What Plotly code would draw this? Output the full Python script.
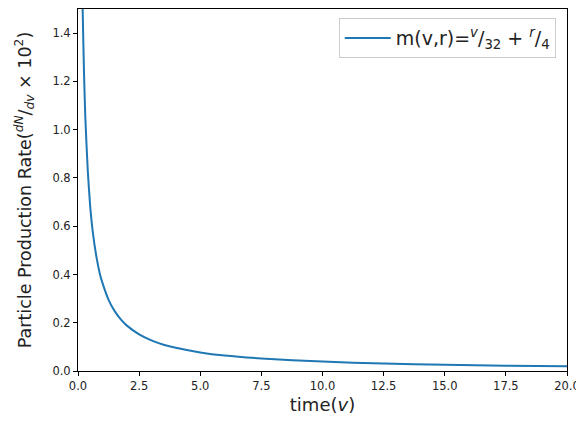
import plotly.graph_objects as go

# values
time_v = [0.15, 0.19, 0.25, 0.3, 0.4, 0.5, 0.6, 0.75, 0.9, 1.0, 1.25, 1.5, 1.75, 2.0,
          2.5, 3.0, 3.5, 4.0, 5.0, 6.0, 7.5, 10.0, 12.5, 15.0, 17.5, 20.0]
rate = [1.78, 1.50, 1.22, 1.05, 0.83, 0.68, 0.58, 0.475, 0.40, 0.365, 0.295, 0.248, 0.214, 0.188,
        0.152, 0.127, 0.109, 0.096, 0.077, 0.064, 0.052, 0.039, 0.031, 0.026, 0.022, 0.0195]

x_ticks = [0, 2.5, 5, 7.5, 10, 12.5, 15, 17.5, 20]
x_tick_labels = ["0.0", "2.5", "5.0", "7.5", "10.0", "12.5", "15.0", "17.5", "20.0"]
y_ticks = [0, 0.2, 0.4, 0.6, 0.8, 1.0, 1.2, 1.4]
y_tick_labels = ["0.0", "0.2", "0.4", "0.6", "0.8", "1.0", "1.2", "1.4"]

legend_name = ("m(v,r)=<sup><i>v</i></sup>/<sub>32</sub> + "
               "<sup><i>r</i></sup>/<sub>4</sub>")
y_title = ("Particle Production Rate(<sup><i>dN</i></sup>/<sub><i>dv</i></sub>"
           " × 10<sup>2</sup>)")

fig = go.Figure()
fig.add_trace(go.Scatter(x=time_v, y=rate, mode="lines", name=legend_name,
                         line=dict(color="#1f77b4", width=2, shape="spline", smoothing=0.6),
                         showlegend=True))

axis_common = dict(showline=True, linecolor="black", linewidth=1, mirror=True,
                   ticks="outside", ticklen=4, tickcolor="black", showgrid=False,
                   zeroline=False, automargin=False,
                   tickfont=dict(family="DejaVu Sans", size=11.5, color="#222"))

fig.update_layout(
    width=576, height=407,
    margin=dict(l=70, r=17, t=1, b=44),
    plot_bgcolor="white", paper_bgcolor="white",
    font=dict(family="DejaVu Sans", color="#222"),
    xaxis=dict(range=[0, 20], tickvals=x_ticks, ticktext=x_tick_labels,
               title=dict(text="time(<i>v</i>)", font=dict(size=18), standoff=14), **axis_common),
    yaxis=dict(range=[0, 1.5], tickvals=y_ticks, ticktext=y_tick_labels,
               title=dict(text=y_title, font=dict(size=17.5), standoff=16), **axis_common),
    legend=dict(x=0.977, y=0.975, xanchor="right", yanchor="top",
                bgcolor="rgba(255,255,255,0.8)", bordercolor="#cccccc", borderwidth=1,
                font=dict(size=19, family="DejaVu Sans"), itemwidth=46),
    showlegend=True,
)

fig.write_html("out.html")
